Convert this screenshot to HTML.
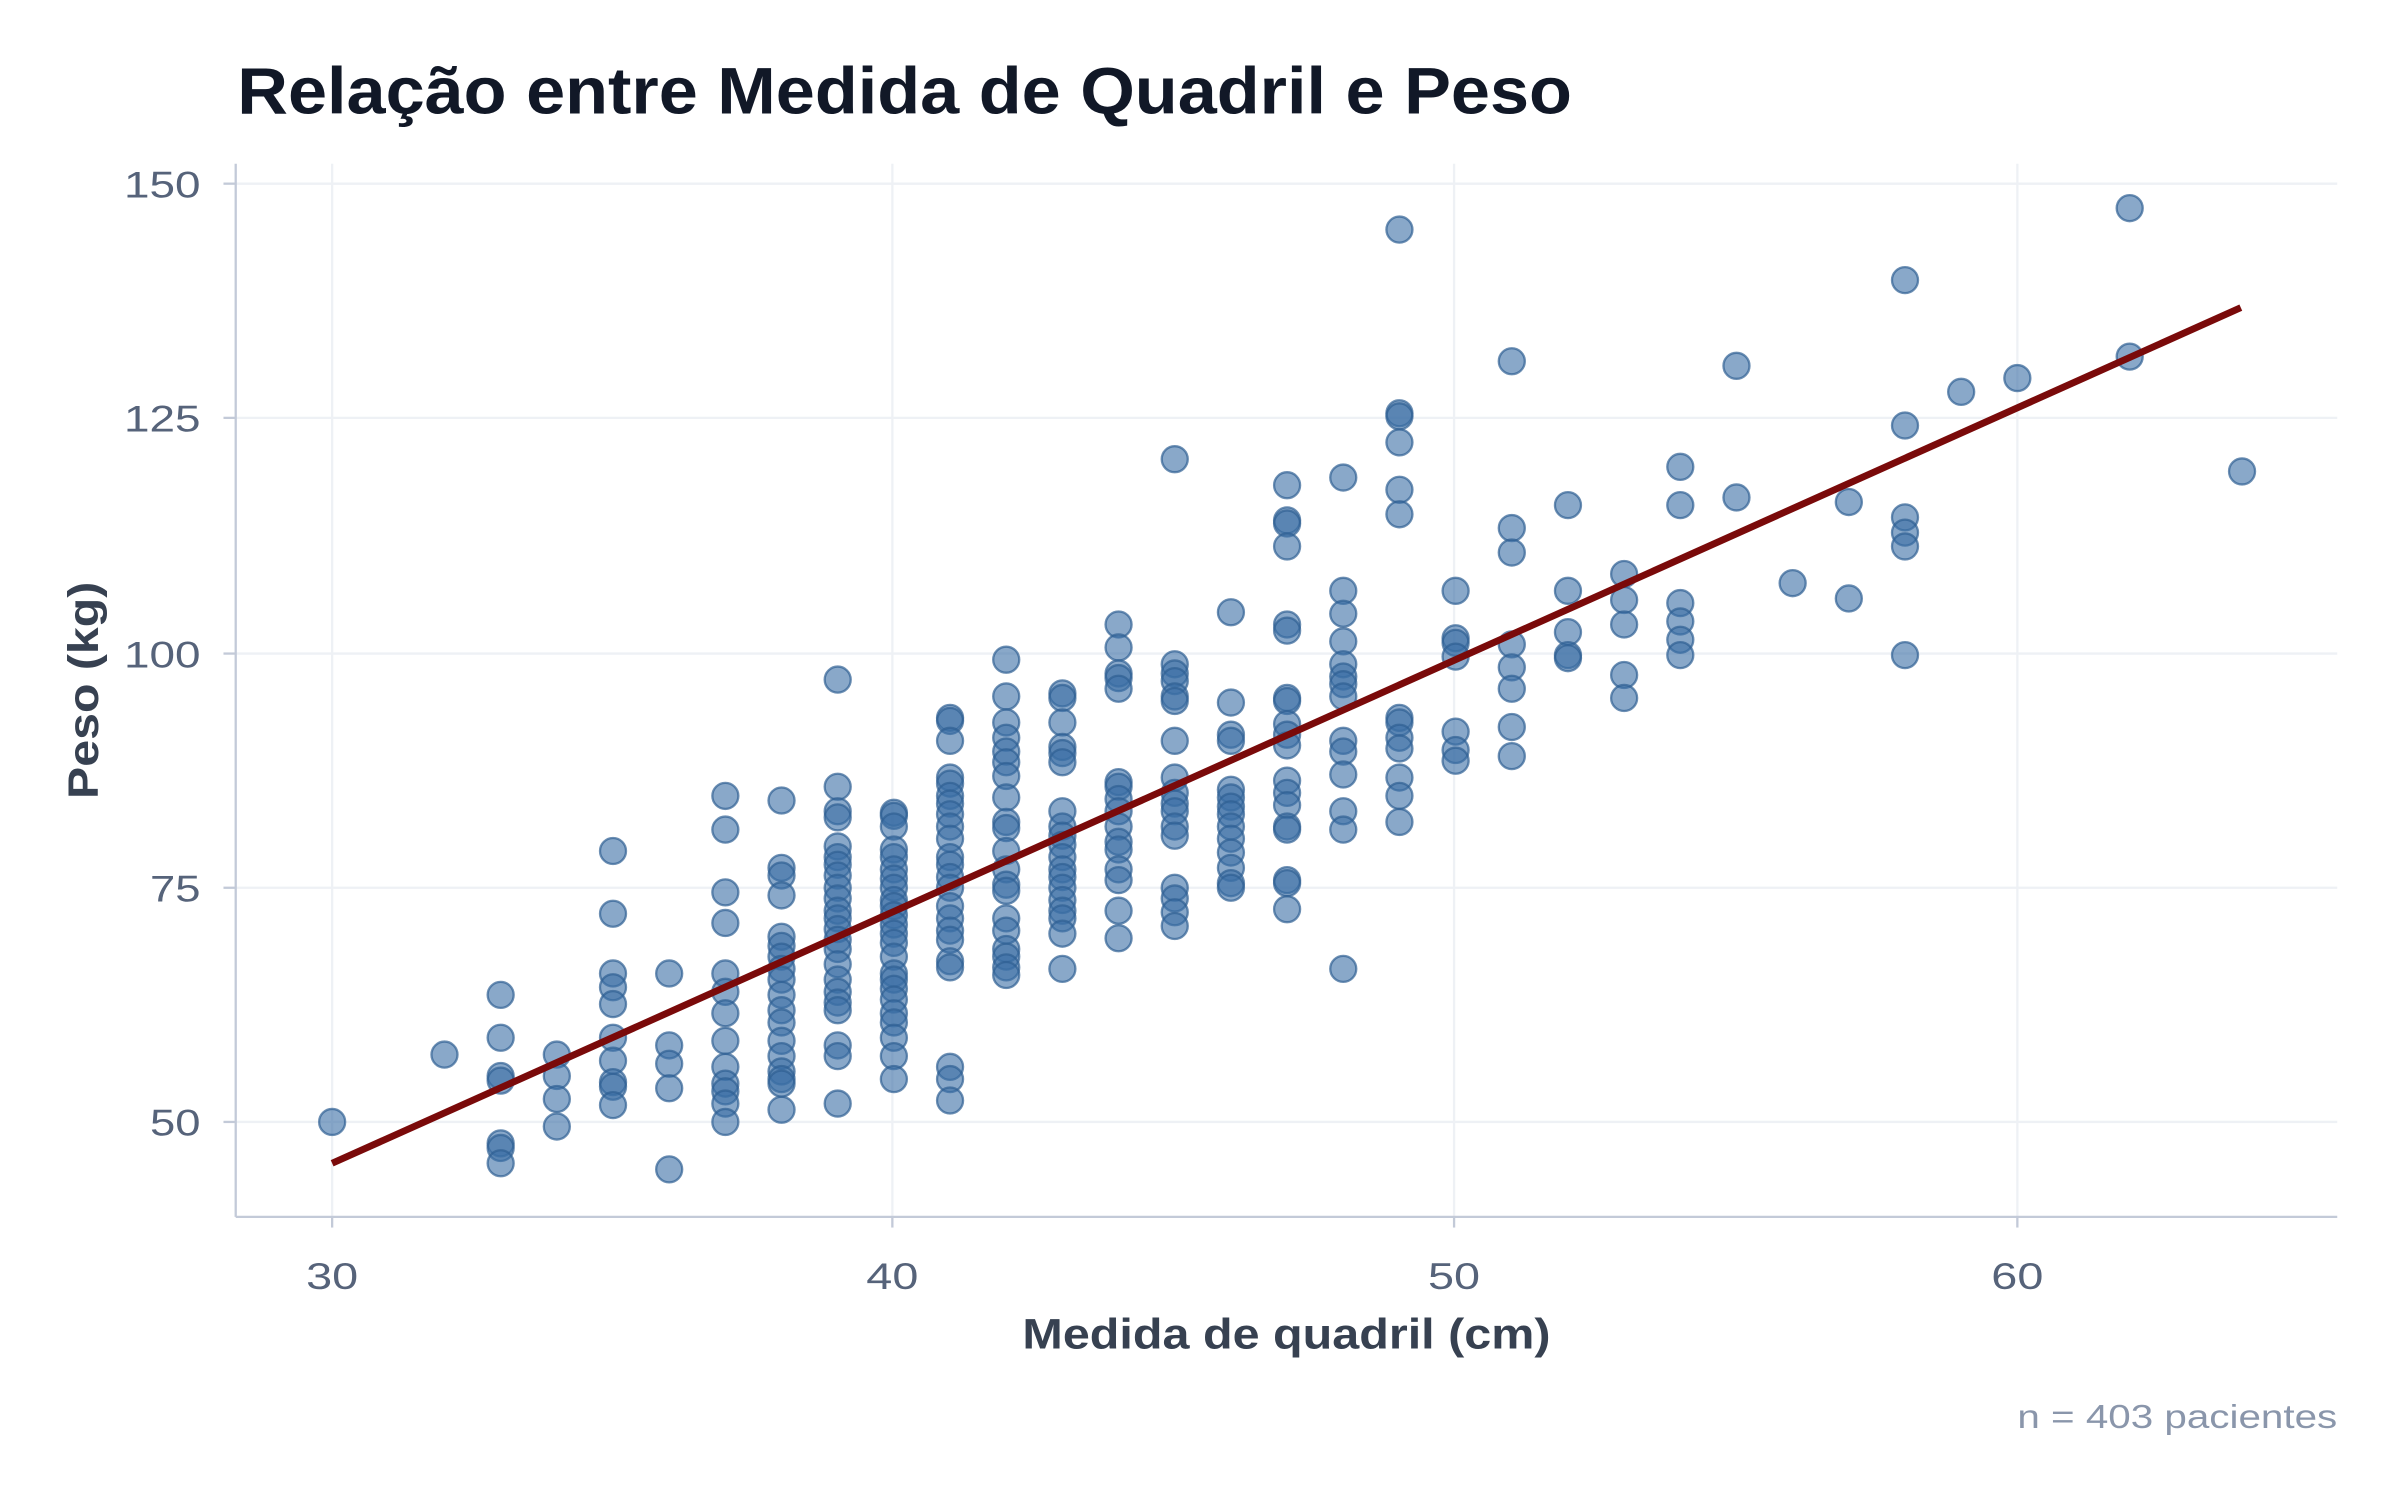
<!DOCTYPE html>
<html><head><meta charset="utf-8">
<style>
html,body{margin:0;padding:0;background:#fff;}
svg{display:block;}
text{font-family:"Liberation Sans",sans-serif;}
</style></head>
<body>
<svg id="s" width="2400" height="1500" viewBox="0 0 1568 980" xmlns="http://www.w3.org/2000/svg">
<rect width="1568" height="980" fill="#fff"/>
<g stroke="#eef1f5" stroke-width="1.5">
<line x1="217" y1="107" x2="217" y2="795"/><line x1="583" y1="107" x2="583" y2="795"/>
<line x1="950" y1="107" x2="950" y2="795"/><line x1="1318" y1="107" x2="1318" y2="795"/>
<line x1="154" y1="120" x2="1527" y2="120"/><line x1="154" y1="273" x2="1527" y2="273"/>
<line x1="154" y1="427" x2="1527" y2="427"/><line x1="154" y1="580" x2="1527" y2="580"/>
<line x1="154" y1="733" x2="1527" y2="733"/>
</g>
<g stroke="#c3cad8" stroke-width="1.5">
<line x1="154" y1="107" x2="154" y2="795"/><line x1="154" y1="795" x2="1527" y2="795"/>
<line x1="146" y1="120" x2="154" y2="120"/><line x1="146" y1="273" x2="154" y2="273"/>
<line x1="146" y1="427" x2="154" y2="427"/><line x1="146" y1="580" x2="154" y2="580"/>
<line x1="146" y1="733" x2="154" y2="733"/>
<line x1="217" y1="795" x2="217" y2="802"/><line x1="583" y1="795" x2="583" y2="802"/>
<line x1="950" y1="795" x2="950" y2="802"/><line x1="1318" y1="795" x2="1318" y2="802"/>
</g>
<g fill="#56637a" font-size="24" text-anchor="end" lengthAdjust="spacingAndGlyphs">
<text x="131" y="129" textLength="50" lengthAdjust="spacingAndGlyphs">150</text><text x="131" y="282" textLength="50" lengthAdjust="spacingAndGlyphs">125</text><text x="131" y="436" textLength="50" lengthAdjust="spacingAndGlyphs">100</text>
<text x="131" y="589" textLength="33" lengthAdjust="spacingAndGlyphs">75</text><text x="131" y="742" textLength="33" lengthAdjust="spacingAndGlyphs">50</text>
</g>
<g fill="#56637a" font-size="24" text-anchor="middle">
<text x="217" y="842" textLength="34" lengthAdjust="spacingAndGlyphs">30</text><text x="583" y="842" textLength="34" lengthAdjust="spacingAndGlyphs">40</text><text x="950" y="842" textLength="34" lengthAdjust="spacingAndGlyphs">50</text><text x="1318" y="842" textLength="34" lengthAdjust="spacingAndGlyphs">60</text>
</g>
<text x="155" y="74" font-size="43" font-weight="bold" fill="#111827" textLength="872" lengthAdjust="spacingAndGlyphs">Relação entre Medida de Quadril e Peso</text>
<text x="668" y="881" font-size="28" font-weight="bold" fill="#374151" textLength="345" lengthAdjust="spacingAndGlyphs">Medida de quadril (cm)</text>
<text transform="translate(64,522) rotate(-90)" font-size="28" font-weight="bold" fill="#374151" textLength="142" lengthAdjust="spacingAndGlyphs">Peso (kg)</text>
<text x="1318" y="933" font-size="22" fill="#8a96ab" textLength="209" lengthAdjust="spacingAndGlyphs">n = 403 pacientes</text>
<g id="pts" fill="#3a6ea5" fill-opacity="0.6" stroke="#2f5f93" stroke-opacity="0.7" stroke-width="1.5"></g>
<line x1="217" y1="760" x2="1464" y2="201" stroke="#7a0a0a" stroke-width="4.5"/>
</svg>
<script>
var d={30:[733],32:[689],33:[650,678,703,706,747,750,760],34:[689,703,718,736],
35:[556,597,636,645,656,678,693,707,710,722],36:[636,683,695,711,764],
37:[520,542,583,603,636,648,662,680,697,708,713,721,733],
38:[523,567,572,585,612,618,625,633,640,650,660,668,680,690,700,705,708,725],
39:[444,514,530,534,553,560,565,572,580,587,595,600,607,614,620,630,640,648,655,660,683,690,721],
40:[531,533,540,555,560,568,574,580,588,592,598,604,610,616,625,636,640,646,653,662,668,678,690,705],
41:[469,471,484,508,512,520,525,532,540,548,560,565,573,580,592,600,608,614,628,632,697,705,719],
42:[431,455,472,482,491,498,507,521,537,541,556,568,578,582,600,608,620,625,632,637],
43:[453,456,472,488,492,498,530,540,546,552,560,568,573,580,588,595,600,610,633],
44:[408,423,440,443,450,511,514,522,530,540,550,555,568,575,595,613],
45:[300,434,440,445,455,458,484,508,518,525,530,540,546,580,587,596,605],
46:[400,459,480,484,516,521,527,532,540,548,557,567,577,580],
47:[317,340,342,357,408,412,456,458,473,480,487,510,518,526,540,542,575,577,594],
48:[312,386,401,419,434,442,447,455,484,491,506,530,542,633],
49:[150,270,272,289,320,336,469,472,482,489,508,520,537],
50:[386,417,420,429,478,490,497],51:[236,345,361,421,436,450,475,494],
52:[330,386,413,428,430],53:[375,392,408,441,456],54:[305,330,394,406,418,428],
55:[239,325],56:[381],57:[328,391],58:[183,278,338,348,357,428],59:[256],60:[247],62:[136,233],64:[308]};
var g=document.getElementById('pts'),h='';
for(var k in d){var x=217+(k-30)*36.7;d[k].forEach(function(y){h+='<circle cx="'+x.toFixed(1)+'" cy="'+y+'" r="8.5"/>';});}
g.innerHTML=h;
</script>
</body></html>
